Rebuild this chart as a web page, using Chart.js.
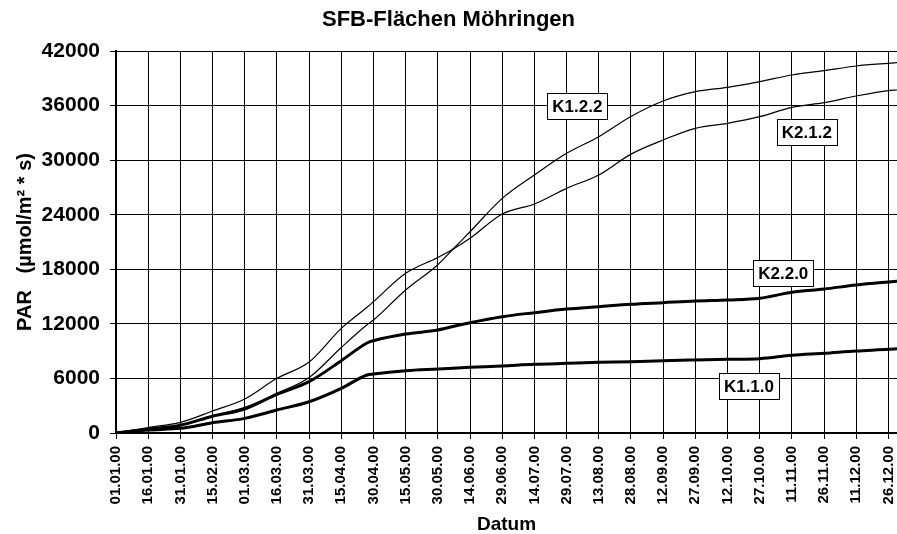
<!DOCTYPE html>
<html>
<head>
<meta charset="utf-8">
<script src="https://cdn.jsdelivr.net/npm/chart.js@4/dist/chart.umd.min.js"></script>
<style>
  html, body { margin: 0; padding: 0; background: #fff; }
  #wrap { width: 897px; height: 534px; }
</style>
</head>
<body>
<div id="wrap"><canvas id="chart" width="897" height="534"></canvas></div>
<script>
// Tagesnummer ab 01.01.00
var days = [0, 15, 30, 45, 60, 75, 90, 105, 117, 120, 135, 150, 157, 165, 180, 195,
    210, 225, 240, 255, 270, 285, 300, 315, 330, 345, 360, 364];

var k122 = [0, 450, 880, 1900, 2820, 4360, 6100, 9400, 11900, 12420, 15720, 18500, 20200, 22130, 25800, 28370,
    30750, 32580, 34800, 36500, 37530, 38010, 38630, 39360, 39840, 40350, 40650, 40720];
var k212 = [0, 600, 1170, 2420, 3740, 6010, 7800, 11500, 13820, 14440, 17560, 19300, 20200, 21400, 24080, 25180,
    26900, 28370, 30660, 32220, 33500, 34050, 34780, 35810, 36320, 37050, 37640, 37710];
var k220 = [0, 420, 850, 1850, 2640, 4250, 5640, 7950, 9900, 10150, 10880, 11320, 11700, 12130, 12790, 13230,
    13630, 13890, 14150, 14330, 14510, 14620, 14810, 15470, 15830, 16270, 16600, 16680];
var k110 = [0, 330, 510, 1130, 1610, 2530, 3440, 4910, 6380, 6490, 6850, 7040, 7130, 7220, 7370, 7550,
    7660, 7770, 7840, 7950, 8030, 8100, 8170, 8540, 8760, 9020, 9200, 9270];

// x-Achse
var tickDays = [0, 15, 30, 45, 60, 75, 90, 105, 120, 135, 150, 165, 180, 195, 210, 225,
    240, 255, 270, 285, 300, 315, 330, 345, 360];
var dateLabels = ['01.01.00', '16.01.00', '31.01.00', '15.02.00', '01.03.00', '16.03.00', '31.03.00',
    '15.04.00', '30.04.00', '15.05.00', '30.05.00', '14.06.00', '29.06.00', '14.07.00', '29.07.00',
    '13.08.00', '28.08.00', '12.09.00', '27.09.00', '12.10.00', '27.10.00', '11.11.00', '26.11.00',
    '11.12.00', '26.12.00'];

// y-Achse
var yTicks = [0, 3000, 6000, 9000, 12000, 15000, 18000, 21000, 24000, 27000, 30000, 33000, 36000, 39000, 42000];

// Beschriftungen der Kurven
var labelNames = ['K1.2.2', 'K2.1.2', 'K2.2.0', 'K1.1.0'];
var labelDays = [215, 322, 311, 295];
var labelValues = [35950, 33100, 17590, 5170];

var FONT = '"Liberation Sans", Arial, sans-serif';

function pts(vals) {
    return days.map(function (d, i) { return {x: d, y: vals[i]}; });
}

var curveLabels = {
    id: 'curveLabels',
    afterDatasetsDraw: function (chart) {
        var ctx = chart.ctx, xs = chart.scales.x, ys = chart.scales.y;
        ctx.save();
        ctx.font = 'bold 17px ' + FONT;
        ctx.textAlign = 'center';
        ctx.textBaseline = 'middle';
        for (var i = 0; i < labelNames.length; i++) {
            var cx = xs.getPixelForValue(labelDays[i]);
            var cy = ys.getPixelForValue(labelValues[i]);
            var w = 60, h = 26;
            var l = Math.round(cx - w / 2) + 0.5, t = Math.round(cy - h / 2) + 0.5;
            ctx.fillStyle = '#fff';
            ctx.fillRect(l, t, w, h);
            ctx.strokeStyle = '#000';
            ctx.lineWidth = 1;
            ctx.strokeRect(l, t, w, h);
            ctx.fillStyle = '#000';
            ctx.fillText(labelNames[i], cx, cy + 1);
        }
        ctx.restore();
    }
};

function line(name, vals, width) {
    return {
        label: name,
        data: pts(vals),
        borderColor: '#000',
        borderWidth: width,
        pointRadius: 0,
        fill: false,
        cubicInterpolationMode: 'monotone'
    };
}

new Chart(document.getElementById('chart'), {
    type: 'line',
    data: {
        datasets: [
            line('K1.2.2', k122, 1.2),
            line('K2.1.2', k212, 1.2),
            line('K2.2.0', k220, 3),
            line('K1.1.0', k110, 3)
        ]
    },
    plugins: [curveLabels],
    options: {
        responsive: false,
        animation: false,
        layout: {padding: 0},
        plugins: {
            legend: {display: false},
            tooltip: {enabled: false},
            title: {
                display: true,
                text: 'SFB-Flächen Möhringen',
                color: '#000',
                font: {family: FONT, size: 22, weight: 'bold'},
                padding: {top: 7, bottom: 17.6}
            }
        },
        scales: {
            x: {
                type: 'linear',
                min: 0,
                max: 364,
                afterBuildTicks: function (s) {
                    s.ticks = tickDays.map(function (v) { return {value: v}; });
                },
                afterFit: function (s) {
                    s.height = 101;
                    s.paddingLeft = 0;
                    s.paddingRight = 0;
                },
                ticks: {
                    autoSkip: false,
                    maxRotation: 90,
                    minRotation: 90,
                    padding: 7,
                    color: '#000',
                    font: {family: FONT, size: 15, weight: 'bold'},
                    callback: function (v) {
                        var i = tickDays.indexOf(v);
                        return i >= 0 ? dateLabels[i] : '';
                    }
                },
                grid: {color: '#000', lineWidth: 1, tickColor: '#000', tickLength: 6},
                border: {display: true, color: '#000', width: 2},
                title: {
                    display: true,
                    text: 'Datum',
                    color: '#000',
                    font: {family: FONT, size: 19, weight: 'bold', lineHeight: 1},
                    padding: {top: 0, bottom: 0}
                }
            },
            y: {
                min: 0,
                max: 42000,
                afterBuildTicks: function (s) {
                    s.ticks = yTicks.map(function (v) { return {value: v}; });
                },
                afterFit: function (s) {
                    s.width = 116;
                },
                ticks: {
                    padding: 10,
                    color: '#000',
                    font: {family: FONT, size: 21, weight: 'bold'},
                    callback: function (v) { return v % 6000 === 0 ? String(v) : ''; }
                },
                grid: {
                    color: function (c) {
                        return c.tick && c.tick.value % 6000 === 0 ? '#000' : 'rgba(0,0,0,0)';
                    },
                    tickColor: '#000',
                    tickLength: 6,
                    lineWidth: 1
                },
                border: {display: true, color: '#000', width: 2},
                title: {
                    display: true,
                    text: 'PAR   (µmol/m² * s)',
                    color: '#000',
                    font: {family: FONT, size: 20, weight: 'bold'},
                    padding: {top: 13, bottom: 0}
                }
            }
        }
    }
});
</script>
</body>
</html>
